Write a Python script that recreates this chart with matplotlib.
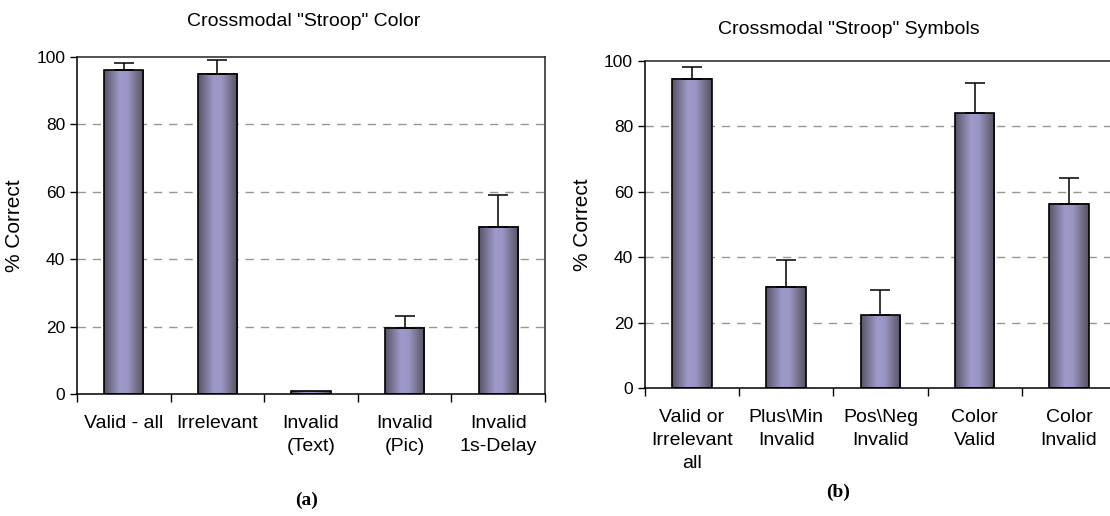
import numpy as np
import matplotlib
matplotlib.use("Agg")
import matplotlib.pyplot as plt
from matplotlib.colors import LinearSegmentedColormap

plt.rcParams['font.family'] = ['Liberation Sans', 'DejaVu Sans']

# panel (a)
a_title = 'Crossmodal "Stroop" Color'
a_labels = ["Valid - all", "Irrelevant", "Invalid\n(Text)", "Invalid\n(Pic)", "Invalid\n1s-Delay"]
a_vals = [96, 95, 0.8, 19.7, 49.7]
a_err = [2.2, 4.0, 0, 3.5, 9.5]

# panel (b)
b_title = 'Crossmodal "Stroop" Symbols'
b_labels = ["Valid or\nIrrelevant\nall", "Plus\\Min\nInvalid", "Pos\\Neg\nInvalid", "Color\nValid", "Color\nInvalid"]
b_vals = [94.5, 31, 22.3, 84, 56.3]
b_err = [3.7, 8.2, 7.7, 9.2, 7.8]

yticks = [0, 20, 40, 60, 80, 100]

shade = LinearSegmentedColormap.from_list(
    "shade", ["#5a5468", "#7c7898", "#9e9aca", "#9995c4", "#78748f", "#585266"])
grad = np.linspace(0, 1, 64).reshape(1, -1)


def panel(ax, labels, vals, err):
    x = np.arange(len(vals))
    bars = ax.bar(x, vals, width=0.42, color="none", edgecolor="black",
                  linewidth=1.2, zorder=3)
    for b in bars:
        x0, y0 = b.get_x(), b.get_y()
        ax.imshow(grad, cmap=shade, aspect="auto", zorder=2,
                  extent=(x0, x0 + b.get_width(), y0, y0 + b.get_height()))
    show = np.array(err) > 0
    ax.errorbar(x[show], np.array(vals)[show],
                yerr=[np.zeros(show.sum()), np.array(err)[show]],
                fmt="none", ecolor="black", elinewidth=1.1, capsize=7,
                capthick=1.1, zorder=4)
    ax.set_xlim(-0.5, len(vals) - 0.5)
    ax.set_ylim(0, 100)
    ax.set_yticks(yticks)
    ax.set_xticks(x)
    ax.set_xticklabels(labels, fontsize=14, linespacing=1.45)
    ax.set_xticks(np.arange(len(vals) + 1) - 0.5, minor=True)
    ax.tick_params(axis="x", which="major", length=0, pad=15)
    ax.tick_params(axis="x", which="minor", length=6, width=1, direction="out")
    ax.tick_params(axis="y", labelsize=12.5, length=5, width=1, direction="out")
    for yv in yticks[1:-1]:
        ax.axhline(yv, color="#9a9692", linestyle=(0, (6, 5)), linewidth=1, zorder=1)
    for s in ax.spines.values():
        s.set_linewidth(1.1)
        s.set_color("#222222")
    ax.spines["left"].set_color("black")
    ax.spines["bottom"].set_color("black")
    ax.set_ylabel("% Correct", fontsize=15, labelpad=9)


fig = plt.figure(figsize=(11.1, 5.16), dpi=100)
ax1 = fig.add_axes([0.0694, 0.2364, 0.4216, 0.6531])
ax2 = fig.add_axes([0.581, 0.248, 0.4244, 0.6338])

panel(ax1, a_labels, a_vals, a_err)
panel(ax2, b_labels, b_vals, b_err)

fig.text(304 / 1110, 1 - 22 / 516, a_title, fontsize=14, ha="center", va="center")
fig.text(849 / 1110, 1 - 30 / 516, b_title, fontsize=14, ha="center", va="center")
fig.text(307 / 1110, 1 - 500 / 516, "(a)", fontsize=14, fontweight="bold",
         family="Liberation Serif", ha="center", va="center")
fig.text(838 / 1110, 1 - 492 / 516, "(b)", fontsize=14, fontweight="bold",
         family="Liberation Serif", ha="center", va="center")

fig.savefig("out.png", dpi=100)
